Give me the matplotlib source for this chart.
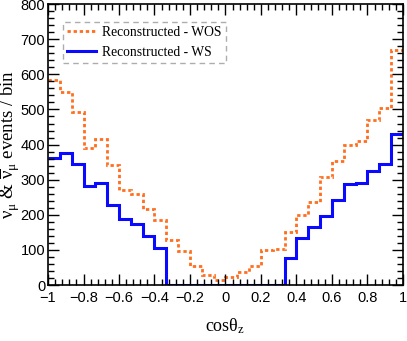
import numpy as np
import matplotlib
matplotlib.use("Agg")
import matplotlib.pyplot as plt
from matplotlib.ticker import MultipleLocator

plt.rcParams["mathtext.fontset"] = "stix"

# 30 bins in cos(theta_z) from -1 to 1
edges = np.linspace(-1, 1, 31)
wos = [585, 549, 492, 389, 417, 343, 271, 259, 217, 185,
       128, 96, 53, 29, 15, 22, 38, 54, 99, 104,
       151, 199, 236, 307, 353, 399, 410, 470, 503, 670]
ws = [362, 376, 345, 283, 291, 228, 187, 175, 139, 105,
      0, 0, 0, 0, 0, 0, 0, 0, 0, 0,
      77, 134, 165, 198, 242, 288, 290, 324, 345, 431]

W, H = 4.07, 3.41
fig = plt.figure(figsize=(W, H), dpi=100)
ax = fig.add_axes([0.118, 0.164, 0.872, 0.824])

ax.stairs(wos, edges, color="#ff6f1f", lw=2.0, ls=(0, (1.2, 1.0)),
          label="Reconstructed - WOS", baseline=None)
ax.stairs(ws, edges, color="#0a0aff", lw=2.2, label="Reconstructed - WS",
          baseline=None)

ax.set_xlim(-1, 1)
ax.set_ylim(0, 800)
ax.xaxis.set_major_locator(MultipleLocator(0.2))
ax.xaxis.set_minor_locator(MultipleLocator(0.04))
ax.yaxis.set_major_locator(MultipleLocator(100))
ax.yaxis.set_minor_locator(MultipleLocator(20))
ax.tick_params(which="both", direction="in", top=True, right=True,
               color="black", width=1.0)
ax.tick_params(which="major", length=8, labelsize=10.5)
ax.tick_params(axis="y", which="major", pad=2)
ax.tick_params(axis="x", which="major", pad=4.5)
ax.tick_params(which="minor", length=4)
for lab in ax.get_xticklabels() + ax.get_yticklabels():
    lab.set_family("Liberation Sans")
ax.xaxis.set_major_formatter(plt.FuncFormatter(
    lambda v, p: ("%g" % round(v, 2)).replace("-", "\u2212")))
for sp in ax.spines.values():
    sp.set_linewidth(1.2)

ax.set_xlabel(r"cos$\mathregular{\theta_{z}}$", family="Liberation Serif",
              fontsize=13, labelpad=8)
ax.set_ylabel(r"$\mathregular{\nu_{\mu}}$ & $\mathregular{\overline{\nu}_{\mu}}$ events / bin",
              family="Liberation Serif", fontsize=13.5)
ax.yaxis.set_label_coords(-0.072, 0.5)

leg = ax.legend(loc="upper left", bbox_to_anchor=(0.042, 0.936),
                borderaxespad=0.0,
                prop={"family": "Liberation Serif", "size": 9.8},
                frameon=True, fancybox=False, handlelength=2.15,
                handletextpad=0.42, borderpad=0.3, labelspacing=0.5)
leg.get_frame().set_edgecolor("#999999")
leg.get_frame().set_linestyle((0, (4, 3)))
leg.get_frame().set_linewidth(1.0)

fig.savefig("out.png", dpi=100, facecolor="white")
